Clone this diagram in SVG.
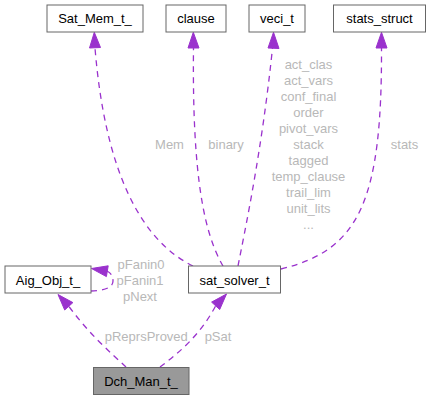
<svg xmlns="http://www.w3.org/2000/svg" width="429" height="400" viewBox="0 0 429 400">
<style>
.box{fill:#ffffff;stroke:#666666;stroke-width:1}
.main{fill:#999999;stroke:#666666;stroke-width:1}
.t{font-family:"Liberation Sans",Arial,sans-serif;font-size:13px;fill:#000000;text-anchor:middle}
.l{font-family:"Liberation Sans",Arial,sans-serif;font-size:13px;fill:#b8b8b8;text-anchor:middle}
.e{fill:none;stroke:#9a32cd;stroke-width:1.3;stroke-dasharray:6,5}
.a{fill:#9a32cd;stroke:#9a32cd;stroke-width:1}
</style>
<rect width="429" height="400" fill="#ffffff"/>
<g id="edges">
<path class="e" d="M193,266 C140,240 105,170 95,48"/>
<polygon class="a" points="94.3,32.3 89.5,48 100.5,47.5"/>
<path class="e" d="M223,266 C205,235 192,180 193.5,48"/>
<polygon class="a" points="193.3,32.3 188,48 199,48"/>
<path class="e" d="M238,266 C245,230 262,150 272.5,48"/>
<polygon class="a" points="273.5,32.3 268,48 279,48.5"/>
<path class="e" d="M281,269 C360,250 382,200 381.5,48"/>
<polygon class="a" points="381.5,32.3 376,48 387,48"/>
<path class="e" d="M91,291 C100,291 113,289 113,281 C113,276 111,273 107,271"/>
<polygon class="a" points="91.5,268.5 108.2,265.8 106.4,276.6"/>
<path class="e" d="M126,367 C110,352 90,335 68.8,306.3"/>
<polygon class="a" points="58,294.5 72.9,302.6 64.7,310"/>
<path class="e" d="M160,367 C180,352 200,335 215.7,305.8"/>
<polygon class="a" points="226.5,294 219.7,309.5 211.6,302.1"/>
<text class="l" x="169.5" y="149">Mem</text>
<text class="l" x="226" y="149">binary</text>
<text class="l" x="404.5" y="149">stats</text>
<text class="l" x="308.5" y="69">act_clas</text>
<text class="l" x="308.5" y="85">act_vars</text>
<text class="l" x="308.5" y="101">conf_final</text>
<text class="l" x="308.5" y="117">order</text>
<text class="l" x="308.5" y="133">pivot_vars</text>
<text class="l" x="308.5" y="149">stack</text>
<text class="l" x="308.5" y="165">tagged</text>
<text class="l" x="308.5" y="181">temp_clause</text>
<text class="l" x="308.5" y="197">trail_lim</text>
<text class="l" x="308.5" y="213">unit_lits</text>
<text class="l" x="308.5" y="229">...</text>
<text class="l" x="141" y="269">pFanin0</text>
<text class="l" x="140" y="285">pFanin1</text>
<text class="l" x="140" y="301">pNext</text>
<text class="l" x="146.3" y="341">pReprsProved</text>
<text class="l" x="218" y="341">pSat</text>
</g>
<g id="Sat_Mem_t_"><rect class="box" x="47" y="5" width="96" height="27"/><text class="t" x="95" y="23">Sat_Mem_t_</text></g>
<g id="clause"><rect class="box" x="166" y="5" width="60" height="27"/><text class="t" x="196" y="23">clause</text></g>
<g id="veci_t"><rect class="box" x="249" y="5" width="56" height="27"/><text class="t" x="277" y="23">veci_t</text></g>
<g id="stats_struct"><rect class="box" x="333.5" y="5" width="92" height="27"/><text class="t" x="379.5" y="23">stats_struct</text></g>
<g id="Aig_Obj_t_"><rect class="box" x="5" y="266" width="86" height="27"/><text class="t" x="48" y="285">Aig_Obj_t_</text></g>
<g id="sat_solver_t"><rect class="box" x="188.5" y="266" width="92" height="27"/><text class="t" x="234.5" y="285">sat_solver_t</text></g>
<g id="Dch_Man_t_"><rect class="main" x="93.5" y="367.5" width="95.5" height="27"/><text class="t" x="141" y="386">Dch_Man_t_</text></g>
</svg>
